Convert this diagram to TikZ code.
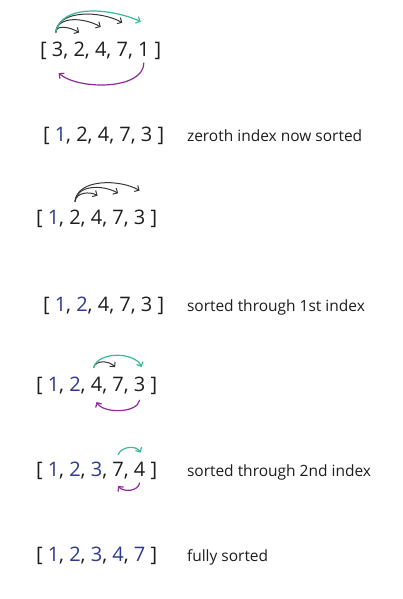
\documentclass[tikz,border=0pt]{standalone}
\usepackage{fontspec}
\setmainfont{Open Sans}
\usetikzlibrary{arrows.meta}
\definecolor{sblue}{RGB}{46,58,140}
\definecolor{steal}{RGB}{60,184,155}
\definecolor{spurple}{RGB}{142,42,154}
\definecolor{sink}{RGB}{30,30,30}
\definecolor{sgray}{RGB}{55,55,55}
\tikzset{
 txt/.style={inner sep=0pt, outer sep=0pt, anchor=base west, text=sink, font=\fontsize{20}{24}\selectfont},
 lbl/.style={inner sep=0pt, outer sep=0pt, anchor=base west, text=sink, font=\fontsize{15.5}{18}\selectfont},
 arr/.style={-{Straight Barb[length=3.5pt,width=7pt]}, line width=1pt, line cap=round},
 blk/.style={arr, draw=sgray},
 tea/.style={arr, draw=steal, line width=1.2pt},
 pur/.style={arr, draw=spurple, line width=1.2pt},
}
\newcommand{\B}[1]{\textcolor{sblue}{#1}}
\newcommand{\arrayrow}[8]{%
 \node[txt] (#1l) at (#2,#3) {[\ \null};
 \node[txt] (#1a) at (#1l.base east) {#4};
 \node[txt] (#1p) at (#1a.base east) {,\ \null};
 \node[txt] (#1b) at (#1p.base east) {#5};
 \node[txt] (#1q) at (#1b.base east) {,\ \null};
 \node[txt] (#1c) at (#1q.base east) {#6};
 \node[txt] (#1r) at (#1c.base east) {,\ \null};
 \node[txt] (#1d) at (#1r.base east) {#7};
 \node[txt] (#1s) at (#1d.base east) {,\ \null};
 \node[txt] (#1e) at (#1s.base east) {#8};
 \node[txt] (#1t) at (#1e.base east) {\null\ ]};
}
\begin{document}
\begin{tikzpicture}[x=1pt,y=1pt]
\useasboundingbox (0,0) rectangle (403,599);
\fill[white] (0,0) rectangle (403,599);

\arrayrow{r1}{40.2}{542}{3}{2}{4}{7}{1}
\arrayrow{r2}{43}{457}{\B1}{2}{4}{7}{3}
\arrayrow{r3}{36}{374}{\B1}{2}{4}{7}{3}
\arrayrow{r4}{43}{287}{\B1}{\B2}{4}{7}{3}
\arrayrow{r5}{36}{207}{\B1}{\B2}{4}{7}{3}
\arrayrow{r6}{36}{122}{\B1}{\B2}{\B3}{7}{4}
\arrayrow{r7}{36}{37}{\B1}{\B2}{\B3}{\B4}{\B7}

\node[lbl] (L2) at (187,457) {zeroth index now sorted};
\node[lbl] (L4) at (187,287) {sorted through 1st index};
\node[lbl] (L6) at (187,122) {sorted through 2nd index};
\node[lbl] (L7) at (187,37) {fully sorted};

% row 1
\draw[blk] ([xshift=-2pt,yshift=10pt]r1a.north) to[out=85,in=150] ([yshift=10pt]r1b.north);
\draw[blk] ([xshift=-2pt,yshift=10pt]r1a.north) to[out=85,in=150] ([yshift=15.7pt]r1c.north);
\draw[blk] ([xshift=-2pt,yshift=10pt]r1a.north) to[out=85,in=150,looseness=0.9] ([yshift=20pt]r1d.north);
\draw[tea] ([xshift=-2pt,yshift=10pt]r1a.north) to[out=80,in=155,looseness=0.9] ([xshift=-3pt,yshift=21pt]r1e.north);
\draw[pur] ([yshift=-6pt]r1e.south) to[out=-90,in=-40,looseness=0.8] ([xshift=1pt,yshift=-16pt]r1a.south);

% row 3
\draw[blk] ([yshift=9pt]r3b.north) to[out=85,in=150] ([xshift=1pt,yshift=15pt]r3c.north);
\draw[blk] ([yshift=9pt]r3b.north) to[out=85,in=150] ([yshift=17.5pt]r3d.north);
\draw[blk] ([yshift=9pt]r3b.north) to[out=85,in=150,looseness=0.9] ([yshift=20pt]r3e.north);

% row 5
\draw[blk] ([xshift=-3pt,yshift=10pt]r5c.north) to[out=75,in=130] ([xshift=-3pt,yshift=10.5pt]r5d.north);
\draw[tea] ([xshift=-3pt,yshift=10pt]r5c.north) to[out=75,in=115,looseness=0.9] ([xshift=2pt,yshift=10.5pt]r5e.north);
\draw[pur] ([yshift=-8pt]r5e.south) to[out=-100,in=-60,looseness=0.8] ([yshift=-10pt]r5c.south);

% row 6
\draw[tea] ([yshift=8pt]r6d.north) to[out=70,in=120] ([xshift=1pt,yshift=10pt]r6e.north);
\draw[pur] ([yshift=-6pt]r6e.south) to[out=-100,in=-50] ([yshift=-9pt]r6d.south);
\end{tikzpicture}
\end{document}
